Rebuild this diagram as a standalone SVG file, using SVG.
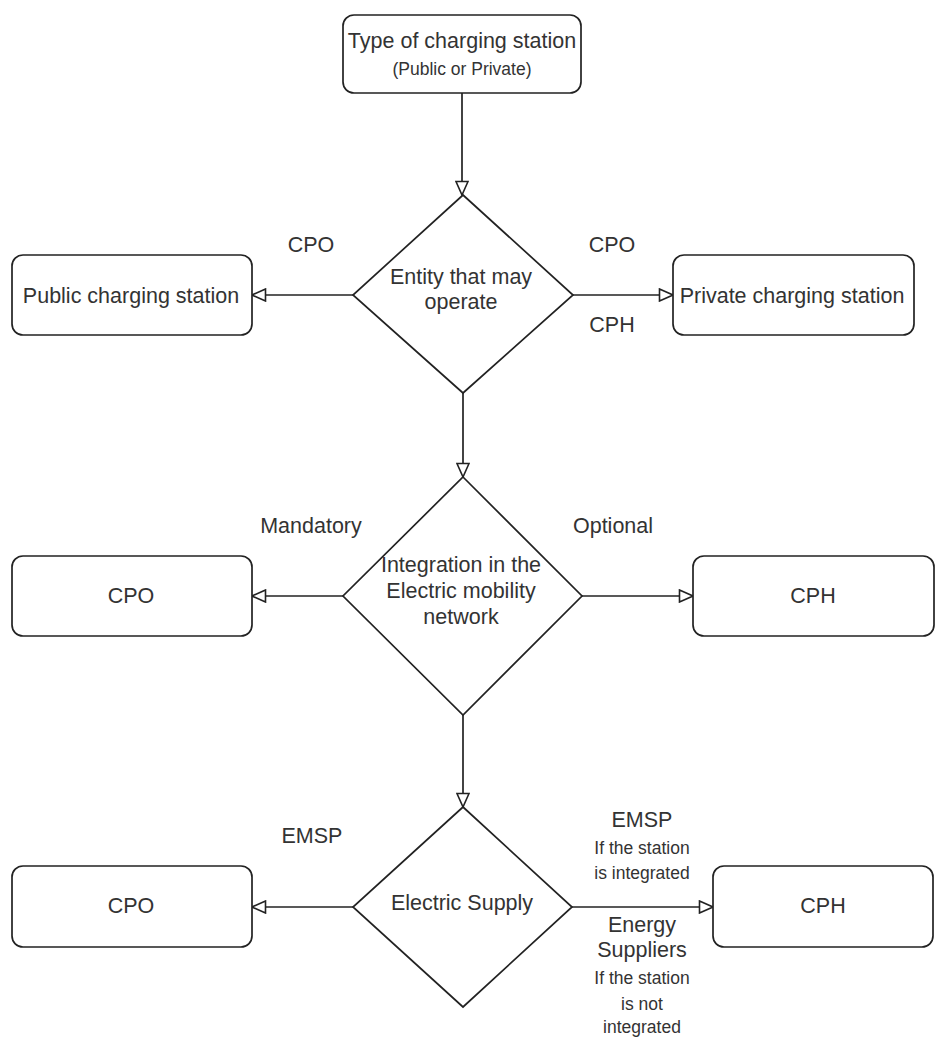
<svg xmlns="http://www.w3.org/2000/svg" width="944" height="1039" viewBox="0 0 944 1039">
<defs>
<style>
.box{fill:#fff;stroke:#222;stroke-width:1.7}
.dia{fill:#fff;stroke:#222;stroke-width:1.7}
.edge{fill:none;stroke:#222;stroke-width:1.7}
text{font-family:"Liberation Sans",Arial,sans-serif;fill:#333;text-anchor:middle}
.lg{font-size:21.5px}
.sm{font-size:17.5px}
</style>
<marker id="arr" viewBox="0 0 16 14" refX="15" refY="7" markerWidth="16" markerHeight="14" markerUnits="userSpaceOnUse" orient="auto">
<path d="M1.5,1 L15,7 L1.5,13 Z" fill="#fff" stroke="#222" stroke-width="1.6"/>
</marker>
</defs>
<rect width="944" height="1039" fill="#fff"/>
<g id="connectors">
<line class="edge" x1="462" y1="93" x2="462" y2="195" marker-end="url(#arr)"/>
<line class="edge" x1="353" y1="295" x2="252" y2="295" marker-end="url(#arr)"/>
<line class="edge" x1="573" y1="295" x2="673" y2="295" marker-end="url(#arr)"/>
<line class="edge" x1="463" y1="393" x2="463" y2="477" marker-end="url(#arr)"/>
<line class="edge" x1="343" y1="596" x2="252" y2="596" marker-end="url(#arr)"/>
<line class="edge" x1="582" y1="596" x2="693" y2="596" marker-end="url(#arr)"/>
<line class="edge" x1="463" y1="715" x2="463" y2="807" marker-end="url(#arr)"/>
<line class="edge" x1="353" y1="907" x2="252" y2="907" marker-end="url(#arr)"/>
<line class="edge" x1="572" y1="907" x2="713" y2="907" marker-end="url(#arr)"/>
<text class="lg" x="311" y="252">CPO</text>
<text class="lg" x="612" y="252">CPO</text>
<text class="lg" x="612" y="332">CPH</text>
<text class="lg" x="311" y="533">Mandatory</text>
<text class="lg" x="613" y="533">Optional</text>
<text class="lg" x="312" y="843">EMSP</text>
<text class="lg" x="642" y="827">EMSP</text>
<text class="sm" x="642" y="854">If the station</text>
<text class="sm" x="642" y="879">is integrated</text>
<text class="lg" x="642" y="932">Energy</text>
<text class="lg" x="642" y="957">Suppliers</text>
<text class="sm" x="642" y="984">If the station</text>
<text class="sm" x="642" y="1010">is not</text>
<text class="sm" x="642" y="1033">integrated</text>
</g>
<g id="n-type">
<rect class="box" x="343" y="15" width="238" height="78" rx="11"/>
<text class="lg" x="462" y="48">Type of charging station</text>
<text class="sm" x="462" y="75">(Public or Private)</text>
</g>
<g id="n-entity">
<polygon class="dia" points="463,195 573,295 463,393 353,295"/>
<text class="lg" x="461" y="284">Entity that may</text>
<text class="lg" x="461" y="309">operate</text>
</g>
<g id="n-public">
<rect class="box" x="12" y="255" width="240" height="80" rx="11"/>
<text class="lg" x="131" y="303">Public charging station</text>
</g>
<g id="n-private">
<rect class="box" x="673" y="255" width="241" height="80" rx="11"/>
<text class="lg" x="792" y="303">Private charging station</text>
</g>
<g id="n-integration">
<polygon class="dia" points="463,477 582,596 463,715 343,596"/>
<text class="lg" x="461" y="572">Integration in the</text>
<text class="lg" x="461" y="598">Electric mobility</text>
<text class="lg" x="461" y="624">network</text>
</g>
<g id="n-cpo1">
<rect class="box" x="12" y="556" width="240" height="80" rx="11"/>
<text class="lg" x="131" y="603">CPO</text>
</g>
<g id="n-cph1">
<rect class="box" x="693" y="556" width="241" height="80" rx="11"/>
<text class="lg" x="813" y="603">CPH</text>
</g>
<g id="n-supply">
<polygon class="dia" points="463,807 572,907 463,1007 353,907"/>
<text class="lg" x="462" y="910">Electric Supply</text>
</g>
<g id="n-cpo2">
<rect class="box" x="12" y="866" width="240" height="81" rx="11"/>
<text class="lg" x="131" y="913">CPO</text>
</g>
<g id="n-cph2">
<rect class="box" x="713" y="866" width="220" height="81" rx="11"/>
<text class="lg" x="823" y="913">CPH</text>
</g>
</svg>
